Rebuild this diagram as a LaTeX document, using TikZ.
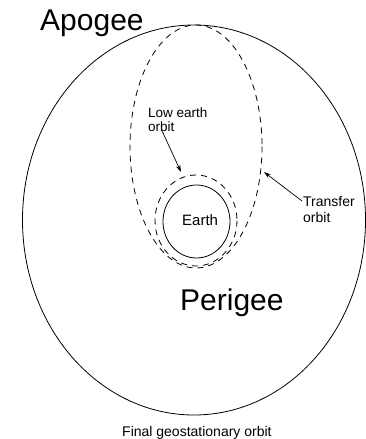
\documentclass[tikz,border=0pt]{standalone}
\usepackage{fontspec}
\setmainfont{Liberation Sans}
\usetikzlibrary{arrows.meta}
\begin{document}
\begin{tikzpicture}[x=1pt,y=-1pt,
  orbitline/.style={line width=0.8pt},
  dashorbit/.style={line width=0.8pt, dash pattern=on 6pt off 5pt},
  biglabel/.style={inner sep=0pt, anchor=base west, font=\fontsize{30}{36}\selectfont},
  smalllabel/.style={inner sep=0pt, anchor=base west, font=\fontsize{14}{16}\selectfont},
  pointer/.style={line width=0.7pt, -{Stealth[length=7pt,width=4.5pt]}}]
\useasboundingbox (0,0) rectangle (366,439);
% orbits
\draw[orbitline] (194,220) ellipse [x radius=171.5, y radius=195];
\draw[dashorbit] (196,146.5) ellipse [x radius=66, y radius=121.5];
\draw[dashorbit] (196,220.5) ellipse [x radius=41, y radius=45.5];
\draw[orbitline] (196.5,221.5) ellipse [x radius=33.5, y radius=36.5];
% labels
\node[biglabel] (apogee) at (40,30) {Apogee};
\node[biglabel] (perigee) at (180,310) {Perigee};
\node[smalllabel, font=\fontsize{15}{16}\selectfont] (earth) at (182,225) {Earth};
\node[smalllabel, font=\fontsize{13.5}{16}\selectfont] (leo1) at (148,117.5) {Low earth};
\node[smalllabel, font=\fontsize{13.5}{16}\selectfont] (leo2) at (148,131) {orbit};
\node[smalllabel] (tr1) at (303,206) {Transfer};
\node[smalllabel] (tr2) at (303,222) {orbit};
\node[smalllabel] (final) at (122,436) {Final geostationary orbit};
% pointers
\coordinate (leoend) at (181,172);
\coordinate (trend) at (264,172);
\draw[pointer] ([yshift=2pt]leo2.south) -- (leoend);
\draw[pointer] ([xshift=-1pt]tr1.west) -- (trend);
\end{tikzpicture}
\end{document}
